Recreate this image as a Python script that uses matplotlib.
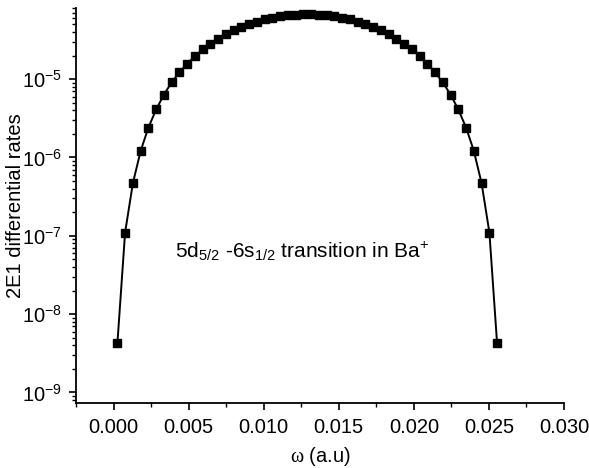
import matplotlib
matplotlib.use("Agg")
import matplotlib.pyplot as plt
from matplotlib.ticker import FixedLocator, MultipleLocator, NullFormatter

plt.rcParams['font.family'] = ['Liberation Sans', 'DejaVu Sans']
plt.rcParams['mathtext.fontset'] = 'custom'
plt.rcParams['mathtext.rm'] = 'Liberation Sans'
plt.rcParams['mathtext.it'] = 'Liberation Sans:italic'
plt.rcParams['mathtext.sf'] = 'Liberation Serif'

omega = [0.00026, 0.00077, 0.00129, 0.00181, 0.00232, 0.00284, 0.00335, 0.00387,
         0.00439, 0.00490, 0.00542, 0.00593, 0.00645, 0.00697, 0.00748, 0.00800,
         0.00851, 0.00903, 0.00955, 0.01006, 0.01058, 0.01109, 0.01161, 0.01213,
         0.01264, 0.01316, 0.01367, 0.01419, 0.01471, 0.01522, 0.01574, 0.01625,
         0.01677, 0.01729, 0.01780, 0.01832, 0.01883, 0.01935, 0.01987, 0.02038,
         0.02090, 0.02141, 0.02193, 0.02245, 0.02296, 0.02348, 0.02399, 0.02451,
         0.02503, 0.02554]

rate_half = [4.3e-9, 1.1e-7, 4.7e-7, 1.22e-6, 2.4e-6, 4.1e-6, 6.3e-6, 9.1e-6,
             1.22e-5, 1.58e-5, 1.97e-5, 2.39e-5, 2.83e-5, 3.28e-5, 3.74e-5,
             4.19e-5, 4.63e-5, 5.05e-5, 5.43e-5, 5.77e-5, 6.07e-5, 6.31e-5,
             6.50e-5, 6.63e-5, 6.69e-5]
rate = rate_half + rate_half[::-1]

xticks = [0.000, 0.005, 0.010, 0.015, 0.020, 0.025, 0.030]
xticklabels = ["0.000", "0.005", "0.010", "0.015", "0.020", "0.025", "0.030"]
yticks = [1e-9, 1e-8, 1e-7, 1e-6, 1e-5]
yticklabels = [r"10$^{-9}$", r"10$^{-8}$", r"10$^{-7}$", r"10$^{-6}$", r"10$^{-5}$"]

fig = plt.figure(figsize=(5.89, 4.68), dpi=100)
ax = fig.add_axes([0.129, 0.1395, 0.8286, 0.8435])

ax.plot(omega, rate, color='black', lw=1.4, marker='s', markersize=5.8,
        markerfacecolor='black', markeredgecolor='black')

ax.set_yscale('log')
ax.set_xlim(-0.0025, 0.030)
ax.set_ylim(7.4e-10, 8.1e-5)

ax.set_xticks(xticks)
ax.set_xticklabels(xticklabels)
ax.xaxis.set_minor_locator(FixedLocator([-0.0025, 0.0025, 0.0075, 0.0125,
                                         0.0175, 0.0225, 0.0275]))
ax.xaxis.set_minor_formatter(NullFormatter())
ax.set_yticks(yticks)
ax.set_yticklabels(yticklabels)
ylo, yhi = ax.get_ylim()
yminor = [m * 10.0 ** e for e in range(-10, -4) for m in range(2, 10)
          if ylo <= m * 10.0 ** e <= yhi]
ax.yaxis.set_minor_locator(FixedLocator(yminor))
ax.yaxis.set_minor_formatter(NullFormatter())

for s in ['top', 'right']:
    ax.spines[s].set_visible(False)
for s in ['left', 'bottom']:
    ax.spines[s].set_linewidth(1.3)

ax.tick_params(axis='both', which='major', direction='out', length=5, width=1.2,
               labelsize=14.5)
ax.tick_params(axis='x', which='major', pad=6)
ax.tick_params(axis='y', which='major', pad=5)
ax.tick_params(axis='both', which='minor', direction='out', length=3, width=1.0)

ax.set_xlabel(r'$\mathsf{\omega}$ (a.u)', fontsize=14.5)
ax.xaxis.set_label_coords(0.5, -0.107)
ax.set_ylabel('2E1 differential rates', fontsize=14.5)
ax.yaxis.set_label_coords(-0.105, 0.5)

ax.text(0.0041, 5.3e-8, r'5d$_{5/2}$ -6s$_{1/2}$ transition in Ba$^{+}$',
        fontsize=15, ha='left', va='baseline')

fig.savefig('out.png', dpi=100)
